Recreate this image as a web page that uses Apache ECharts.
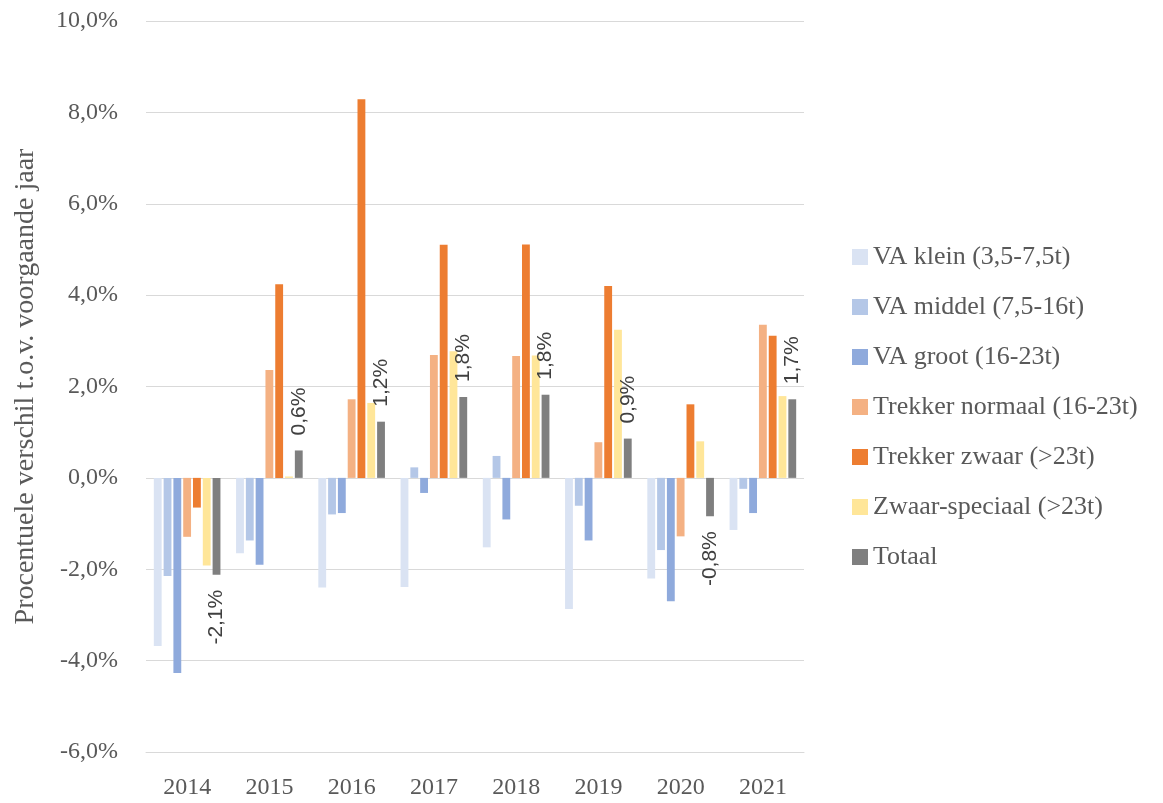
<!DOCTYPE html>
<html>
<head>
<meta charset="utf-8">
<script src="https://cdn.jsdelivr.net/npm/echarts@6/dist/echarts.min.js"></script>
<style>
  html, body { margin: 0; padding: 0; background: #fff; }
  #main { width: 1163px; height: 803px; }
</style>
</head>
<body>
<div id="main"></div>
<script>
// data (% change vs previous year)
const years = ["2014", "2015", "2016", "2017", "2018", "2019", "2020", "2021"];
const seriesNames = [
  "VA klein (3,5-7,5t)",
  "VA middel (7,5-16t)",
  "VA groot (16-23t)",
  "Trekker normaal (16-23t)",
  "Trekker zwaar (>23t)",
  "Zwaar-speciaal (>23t)",
  "Totaal",
];
const vaKlein = [-3.68, -1.65, -2.4, -2.39, -1.52, -2.87, -2.2, -1.14];
const vaMiddel = [-2.15, -1.37, -0.8, 0.23, 0.48, -0.61, -1.58, -0.24];
const vaGroot = [-4.27, -1.9, -0.77, -0.33, -0.91, -1.37, -2.7, -0.77];
const trekkerNormaal = [-1.29, 2.36, 1.72, 2.69, 2.67, 0.78, -1.28, 3.35];
const trekkerZwaar = [-0.65, 4.24, 8.29, 5.1, 5.11, 4.2, 1.61, 3.11];
const zwaarSpeciaal = [-1.92, 0.03, 1.64, 2.77, 2.68, 3.24, 0.8, 1.79];
const totaal = [-2.12, 0.6, 1.23, 1.77, 1.82, 0.86, -0.84, 1.72];
const yTicks = { min: -6, max: 10, interval: 2 };

const colors = ["#DAE3F3", "#B4C7E7", "#8FAADC", "#F4B183", "#ED7D31", "#FFE699", "#7F7F7F"];
const values = [vaKlein, vaMiddel, vaGroot, trekkerNormaal, trekkerZwaar, zwaarSpeciaal, totaal];

const pct = (v) => v.toFixed(1).replace(".", ",") + "%";
const serif = "Liberation Serif";

const chart = echarts.init(document.getElementById("main"));

const series = values.map((data, i) => {
  const s = {
    name: seriesNames[i],
    type: "bar",
    data: data,
    barGap: "25%",
    barCategoryGap: "19%",
    itemStyle: { color: colors[i] },
  };
  if (i === values.length - 1) {
    // only the total gets rotated value labels, outside the bar end
    s.data = data.map((v) => ({
      value: v,
      label: {
        show: true,
        position: v >= 0 ? "top" : "bottom",
        align: v >= 0 ? "left" : "right",
      },
    }));
    s.label = {
      rotate: 90,
      verticalAlign: "middle",
      distance: 15,
      fontFamily: "Liberation Sans",
      fontSize: 21,
      color: "#404040",
      formatter: (p) => pct(p.value),
    };
  }
  return s;
});

const options = {
  animation: false,
  grid: { left: 146, right: 359, top: 21, bottom: 51 },
  legend: {
    orient: "vertical",
    left: 847,
    top: 239,
    itemWidth: 16,
    itemHeight: 16,
    itemGap: 24,
    icon: "rect",
    data: seriesNames,
    textStyle: {
      fontFamily: serif,
      fontSize: 26,
      lineHeight: 26,
      color: "#595959",
    },
  },
  xAxis: {
    type: "category",
    data: years,
    axisLine: { onZero: false, lineStyle: { color: "#D9D9D9" } },
    axisTick: { show: false },
    axisLabel: {
      margin: 24,
      fontFamily: serif,
      fontSize: 24,
      color: "#595959",
    },
  },
  yAxis: {
    type: "value",
    min: yTicks.min,
    max: yTicks.max,
    interval: yTicks.interval,
    name: "Procentuele verschil t.o.v. voorgaande jaar",
    nameLocation: "middle",
    nameGap: 106,
    nameTextStyle: {
      fontFamily: serif,
      fontSize: 28,
      color: "#595959",
    },
    axisLine: { show: false },
    axisTick: { show: false },
    splitLine: { lineStyle: { color: "#D9D9D9", width: 1 } },
    axisLabel: {
      margin: 28,
      fontFamily: serif,
      fontSize: 24,
      color: "#595959",
      formatter: (v) => pct(v),
    },
  },
  series: series,
};

chart.setOption(options);
</script>
</body>
</html>
